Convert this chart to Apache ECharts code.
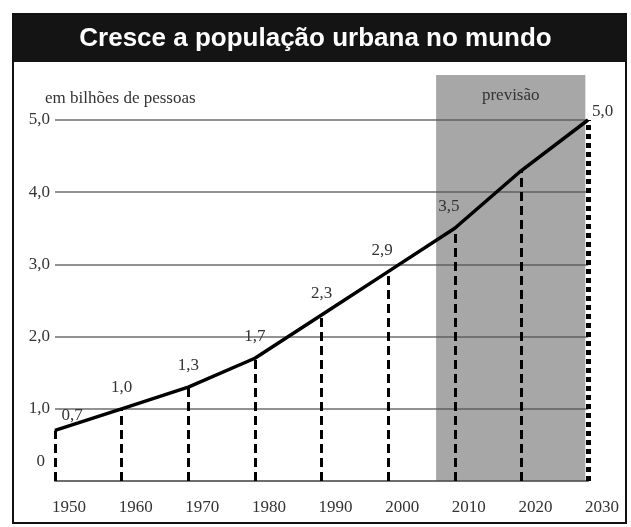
<!DOCTYPE html>
<html>
<head>
<meta charset="utf-8">
<script src="https://cdn.jsdelivr.net/npm/echarts@6/dist/echarts.min.js"></script>
<style>html,body{margin:0;padding:0;background:#fff}#c{width:631px;height:527px}</style>
</head>
<body>
<div id="c"></div>
<script>
var titleText = 'Cresce a população urbana no mundo';
var unitText = 'em bilhões de pessoas';
var forecastText = 'previsão';
var years = [1950, 1960, 1970, 1980, 1990, 2000, 2010, 2020, 2030];
var population = [0.7, 1.0, 1.3, 1.7, 2.3, 2.9, 3.5, 4.3, 5.0];
var labelled = [true, true, true, true, true, true, true, false, true];
var forecastRange = [2007.2, 2029.6];
var yTicks = [0, 1, 2, 3, 4, 5];

function fmt(v) { return String(v.toFixed(1)).replace('.', ','); }

var serif = '"Liberation Serif", "DejaVu Serif", serif';
var chart = echarts.init(document.getElementById('c'), null, {renderer: 'canvas'});

var lineData = years.map(function (y, i) {
  var item = {value: [y, population[i]], label: {show: labelled[i]}};
  if (i === 0) item.label.offset = [17, 7];
  if (i === 5 || i === 6) item.label.offset = [-6, 0];
  if (i === years.length - 1) { item.label.position = 'right'; item.label.offset = [0, -8]; item.label.distance = 4; }
  return item;
});

var drops = years.map(function (y, i) {
  var last = i === years.length - 1;
  return [
    {coord: [y, 0], lineStyle: {width: last ? 5 : 3, type: last ? [5, 4] : [9, 5]}},
    {coord: [y, population[i]]}
  ];
});

var option = {
  backgroundColor: '#fff',
  animation: false,
  title: [{
    text: titleText, left: 'center', top: 21,
    textStyle: {color: '#fff', fontFamily: '"Liberation Sans", Arial, sans-serif', fontWeight: 'bold', fontSize: 26}
  }, {
    text: unitText, left: 40, top: 85,
    textStyle: {color: '#333', fontFamily: serif, fontWeight: 'normal', fontSize: 17}
  }],
  graphic: [
    {type: 'rect', shape: {x: 13, y: 14, width: 613, height: 509}, style: {fill: 'none', stroke: '#111', lineWidth: 2}, z: 100},
    {type: 'rect', shape: {x: 12, y: 14, width: 615, height: 48}, style: {fill: '#141414'}, z: -1}
  ],
  grid: {left: 55, right: 43, top: 75, bottom: 46, containLabel: false},
  xAxis: {
    type: 'value', min: 1950, max: 2030, interval: 10,
    axisLine: {show: true, lineStyle: {color: '#6e6e6e', width: 2}},
    axisTick: {show: false},
    splitLine: {show: false},
    axisLabel: {
      color: '#333', fontFamily: serif, fontSize: 17, margin: 18, padding: [0, 0, 0, 28],
      formatter: function (v) { return String(v); }
    }
  },
  yAxis: {
    type: 'value', min: 0, max: 5.623, interval: 1,
    axisLine: {show: false}, axisTick: {show: false},
    splitLine: {show: true, showMaxLine: false, showMinLine: false, lineStyle: {color: '#6e6e6e', width: 1.6}},
    axisLabel: {
      color: '#333', fontFamily: serif, fontSize: 17, margin: 5,
      formatter: function (v) {
        if (yTicks.indexOf(Math.round(v * 1000) / 1000) < 0) return '';
        if (v === 0) return '{z|0}';
        return fmt(v);
      },
      rich: {z: {fontFamily: serif, fontSize: 17, color: '#333', padding: [0, 5, 38, 0]}}
    }
  },
  series: [{
    type: 'line',
    data: lineData,
    showSymbol: true,
    symbol: 'circle',
    symbolSize: 0.1,
    itemStyle: {color: '#000'},
    z: 5,
    lineStyle: {color: '#000', width: 3.5},
    label: {
      show: true, position: 'top', distance: 13,
      color: '#333', fontFamily: serif, fontSize: 17,
      formatter: function (p) { return fmt(p.value[1]); }
    },
    markLine: {
      silent: true, symbol: 'none', animation: false,
      label: {show: false},
      lineStyle: {color: '#000', width: 3, type: [9, 5]},
      data: drops
    },
    markArea: {
      silent: true,
      itemStyle: {color: 'rgba(80,80,80,0.5)'},
      label: {show: true, position: 'insideTop', distance: 12, color: '#333', fontFamily: serif, fontSize: 17},
      data: [[{name: forecastText, xAxis: forecastRange[0]}, {xAxis: forecastRange[1]}]]
    }
  }]
};
chart.setOption(option);
</script>
</body>
</html>
